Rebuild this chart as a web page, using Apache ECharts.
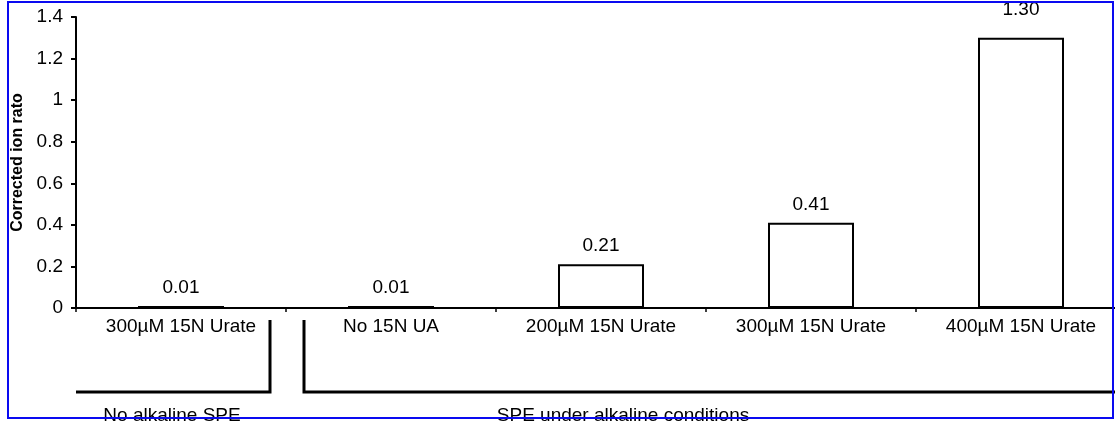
<!DOCTYPE html>
<html><head><meta charset="utf-8">
<script src="https://cdn.jsdelivr.net/npm/echarts@6/dist/echarts.min.js"></script>
<style>html,body{margin:0;padding:0;background:#fff}#c{width:1115px;height:424px}</style>
</head><body><div id="c"></div>
<script>
var categories = ['300\u00b5M 15N Urate', 'No 15N UA', '200\u00b5M 15N Urate', '300\u00b5M 15N Urate', '400\u00b5M 15N Urate'];
var values = [0.01, 0.01, 0.21, 0.41, 1.30];
var groupLabels = ['No alkaline SPE', 'SPE under alkaline conditions'];
var yTicks = [0, 0.2, 0.4, 0.6, 0.8, 1, 1.2, 1.4];

var FONT = 'Liberation Sans, Arial, sans-serif';
var FS = 19;
var chart = echarts.init(document.getElementById('c'), null, {renderer: 'canvas'});
var seriesData = values.map(function (v, i) {
  return i === values.length - 1 ? {value: v, label: {distance: 19}} : {value: v};
});
chart.setOption({
  animation: false,
  backgroundColor: '#fff',
  grid: {left: 76, right: -11, top: 17, bottom: 116, containLabel: false, outerBoundsMode: 'none'},
  xAxis: {
    type: 'category', data: categories,
    axisLine: {lineStyle: {color: '#000', width: 2}},
    axisTick: {show: true, length: 4, lineStyle: {color: '#000', width: 1.5}},
    axisLabel: {color: '#000', fontSize: FS, fontFamily: FONT, margin: 9, interval: 0}
  },
  yAxis: {
    type: 'value', min: yTicks[0], max: yTicks[yTicks.length - 1], interval: 0.2,
    name: 'Corrected ion rato', nameLocation: 'middle', nameGap: 48,
    nameTextStyle: {color: '#000', fontSize: 16, fontWeight: 'bold', fontFamily: FONT},
    splitLine: {show: false},
    axisLine: {show: true, lineStyle: {color: '#000', width: 2}},
    axisTick: {show: true, inside: false, length: 5, lineStyle: {color: '#000', width: 2}},
    axisLabel: {color: '#000', fontSize: FS, fontFamily: FONT, margin: 13,
      formatter: function (v) { return String(Math.round(v * 10) / 10); }}
  },
  series: [{
    type: 'bar', data: seriesData, barWidth: 86,
    itemStyle: {color: '#fff', borderColor: '#000', borderWidth: 2},
    label: {show: true, position: 'top', distance: 9, color: '#000', fontSize: FS, fontFamily: FONT,
      formatter: function (p) { return p.value.toFixed(2); }}
  }]
});

function px(i) { return chart.convertToPixel({xAxisIndex: 0}, i); }
var y0 = chart.convertToPixel({yAxisIndex: 0}, 0);
var xLeft = px(0) - (px(1) - px(0)) / 2;
var bnd = (px(0) + px(1)) / 2;
var yH = y0 + 84, yV = y0 + 12;
var lineSt = {stroke: '#000', lineWidth: 3};
chart.setOption({
  graphic: [
    {type: 'polyline', shape: {points: [[xLeft, yH], [bnd - 16, yH], [bnd - 16, yV]]}, style: lineSt},
    {type: 'polyline', shape: {points: [[bnd + 18, yV], [bnd + 18, yH], [1115, yH]]}, style: lineSt},
    {type: 'text', x: px(0) - 9, y: yH + 24, style: {text: groupLabels[0], fill: '#000', font: FS + 'px ' + FONT, textAlign: 'center', textVerticalAlign: 'middle'}},
    {type: 'text', x: 623, y: yH + 24, style: {text: groupLabels[1], fill: '#000', font: FS + 'px ' + FONT, textAlign: 'center', textVerticalAlign: 'middle'}},
    {type: 'rect', shape: {x: 8, y: 2, width: 1105, height: 416}, style: {fill: 'none', stroke: '#0a0af0', lineWidth: 2}, z: 100}
  ]
});
</script></body></html>
